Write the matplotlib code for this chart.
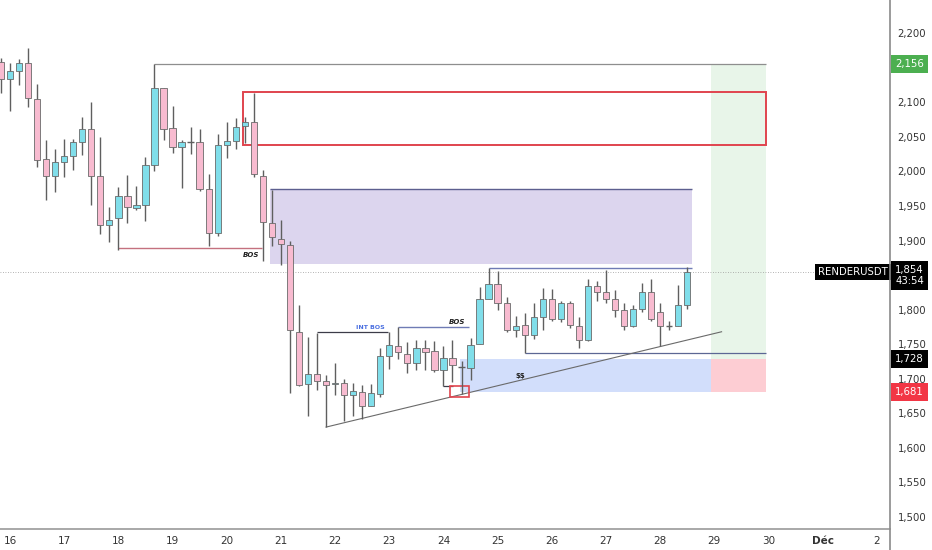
import matplotlib
matplotlib.use('Agg')
import matplotlib.pyplot as plt
import matplotlib.transforms as mtransforms
from matplotlib.patches import Rectangle

# 4h candles, index 0 = 16 Nov 00:00
opens = [2158, 2134, 2146, 2157, 2105, 2018, 1993, 2013, 2022, 2042, 2062, 1993, 1923, 1932, 1964,
         1947, 1951, 2010, 2121, 2063, 2035, 2043, 2042, 1975, 1911, 2039, 2044, 2066, 2071, 1994,
         1925, 1902, 1894, 1768, 1692, 1707, 1697, 1692, 1694, 1677, 1681, 1660, 1678, 1733, 1748,
         1736, 1723, 1744, 1740, 1713, 1730, 1717, 1716, 1750, 1816, 1837, 1810, 1771, 1778, 1763,
         1790, 1816, 1787, 1810, 1776, 1756, 1834, 1826, 1816, 1799, 1776, 1801, 1826, 1796, 1777,
         1776, 1807]
highs = [2164, 2157, 2163, 2179, 2127, 2045, 2032, 2047, 2047, 2079, 2100, 2050, 1949, 1978, 1995,
         1979, 2021, 2156, 2121, 2095, 2046, 2064, 2062, 1997, 2054, 2071, 2078, 2079, 2114, 2002,
         1973, 1930, 1899, 1807, 1761, 1766, 1705, 1723, 1699, 1694, 1691, 1692, 1745, 1767, 1775,
         1753, 1756, 1756, 1754, 1748, 1756, 1725, 1759, 1833, 1861, 1856, 1818, 1791, 1795, 1810,
         1832, 1830, 1813, 1813, 1789, 1844, 1842, 1857, 1829, 1810, 1807, 1838, 1844, 1810, 1784,
         1836, 1862]
lows = [2114, 2087, 2125, 2093, 2007, 1959, 1971, 1992, 2002, 2024, 1952, 1909, 1898, 1887, 1925,
        1944, 1928, 2001, 2046, 2027, 1976, 2026, 1972, 1892, 1906, 2019, 2033, 2041, 1992, 1871,
        1892, 1865, 1679, 1689, 1646, 1684, 1630, 1677, 1639, 1646, 1642, 1660, 1674, 1714, 1728,
        1708, 1712, 1712, 1710, 1690, 1695, 1678, 1698, 1750, 1815, 1799, 1768, 1761, 1737, 1757,
        1770, 1784, 1782, 1773, 1745, 1755, 1812, 1809, 1790, 1770, 1775, 1797, 1784, 1747, 1770,
        1776, 1801]
closes = [2134, 2145, 2157, 2106, 2017, 1993, 2013, 2022, 2042, 2061, 1993, 1923, 1930, 1964, 1948,
          1951, 2010, 2121, 2062, 2036, 2042, 2043, 1975, 1911, 2039, 2044, 2064, 2071, 1996, 1927,
          1905, 1895, 1771, 1691, 1707, 1697, 1691, 1694, 1677, 1682, 1661, 1679, 1733, 1749, 1738,
          1723, 1745, 1739, 1713, 1730, 1720, 1717, 1749, 1816, 1837, 1810, 1771, 1777, 1763, 1790,
          1816, 1787, 1810, 1778, 1756, 1834, 1826, 1816, 1799, 1776, 1801, 1826, 1787, 1777, 1777,
          1807, 1854]
first_bar = -1

day_labels = ['16', '17', '18', '19', '20', '21', '22', '23', '24', '25', '26', '27', '28', '29', '30', 'Déc', '2']
price_ticks = [1500, 1550, 1600, 1650, 1700, 1750, 1800, 1900, 1950, 2000, 2050, 2100, 2200]

last_price = 1854
target = 2156
entry = 1728
stop = 1681
supply_top, supply_bot = 2115, 2039
fvg_top, fvg_bot = 1974, 1866
bos_hi = 1889
int_bos = 1767
bos_lo = 1775
range_hi = 1861
range_lo = 1737
sweep_lvl = 1690
sweep_box = (1673, 1690)
trend_start = (35, 1630)
trend_end = (78.8, 1768)

fig = plt.figure(figsize=(9.32, 5.5), dpi=100)
ax = fig.add_axes([0, 21 / 550, 890 / 932, 529 / 550])
ax.set_xlim(-1.107, 97.45)
ax.set_ylim(1482.5, 2248.2)
x_right = 83.7

# zones
ax.add_patch(Rectangle((77.6, entry), x_right - 77.6, target - entry, facecolor='#e8f5e9', edgecolor='none', zorder=0))
ax.add_patch(Rectangle((77.6, stop), x_right - 77.6, entry - stop, facecolor='#fdcdd3', edgecolor='none', zorder=0))
ax.add_patch(Rectangle((49.8, stop), 77.6 - 49.8, entry - stop, facecolor='#d2defb', edgecolor='none', zorder=0))
ax.add_patch(Rectangle((28.8, fvg_bot), 75.5 - 28.8, fvg_top - fvg_bot, facecolor='#dcd5ee', edgecolor='none', zorder=0))
ax.hlines(fvg_top, 28.8, 75.5, color='#5c5f8f', lw=1.0, zorder=1)
ax.add_patch(Rectangle((25.8, supply_bot), x_right - 25.8, supply_top - supply_bot, facecolor='none',
                       edgecolor='#e0444e', lw=1.4, zorder=3))
ax.add_patch(Rectangle((48.7, sweep_box[0]), 2.1, sweep_box[1] - sweep_box[0], facecolor='none',
                       edgecolor='#e0444e', lw=1.2, zorder=3))

# levels
ax.hlines(target, 16, x_right, color='#8e8e8e', lw=0.9, zorder=1)
ax.hlines(bos_hi, 12, 27.9, color='#c4717f', lw=1.0, zorder=1)
ax.hlines(int_bos, 34, 41.9, color='#3c3c48', lw=0.9, zorder=1)
ax.hlines(bos_lo, 43, 50.8, color='#6f7bb5', lw=1.0, zorder=1)
ax.hlines(range_hi, 53, 75.5, color='#6f7bb5', lw=1.0, zorder=1)
ax.hlines(range_lo, 57, x_right, color='#5c6794', lw=0.9, zorder=1)
ax.hlines(sweep_lvl, 48, 49.1, color='#3c3c48', lw=0.9, zorder=1)
ax.plot([trend_start[0], trend_end[0]], [trend_start[1], trend_end[1]], color='#6a6a6a', lw=0.8, zorder=1)
ax.axhline(last_price, color='#9a9a9a', lw=0.6, ls=(0, (1, 2)), zorder=1)

# candles
for i in range(len(opens)):
    x = first_bar + i
    o, h, l, c = opens[i], highs[i], lows[i], closes[i]
    ax.vlines(x, l, h, color='#5f5f5f', lw=1.0, zorder=4)
    if c == o:
        ax.hlines(o, x - 0.35, x + 0.35, color='#5f5f5f', lw=1.0, zorder=5)
        continue
    col = '#80deea' if c > o else '#f8bbd0'
    ax.add_patch(Rectangle((x - 0.35, min(o, c)), 0.7, abs(c - o), facecolor=col,
                           edgecolor='#6a6a6a', lw=0.6, zorder=5))

# labels on chart
ax.text(27.6, 1879, 'BOS', fontsize=5, fontweight='bold', style='italic', ha='right', va='center', color='#222222', zorder=6)
ax.text(39.9, 1774, 'INT BOS', fontsize=4.5, fontweight='bold', ha='center', va='center', color='#4a6fe0', zorder=6)
ax.text(49.5, 1782, 'BOS', fontsize=5, fontweight='bold', style='italic', ha='center', va='center', color='#222222', zorder=6)
ax.text(56.5, 1704, r'\$\$', fontsize=5, fontweight='bold', ha='center', va='center', color='#222222', zorder=6)

# axes styling
for s in ['top', 'left', 'right']:
    ax.spines[s].set_visible(False)
ax.spines['bottom'].set_color('#9a9a9a')
ax.spines['bottom'].set_linewidth(1.2)
fig.add_artist(plt.Line2D([890 / 932, 890 / 932], [0, 1], color='#8a8a8a', lw=1.2))

narrow = ['Liberation Sans Narrow', 'DejaVu Sans']
ax.set_xticks([6 * d for d in range(len(day_labels))])
ax.set_xticklabels(day_labels, fontsize=7.5, color='#333333', family=narrow)
for lab in ax.get_xticklabels():
    if lab.get_text() == 'Déc':
        lab.set_fontweight('bold')
ax.tick_params(axis='x', length=0, pad=5)

ax.yaxis.tick_right()
ax.set_yticks(price_ticks)
ax.set_yticklabels([f'{p:,}' for p in price_ticks], fontsize=7.3, color='#333333')
ax.tick_params(axis='y', length=0, pad=5.5)

tr = mtransforms.blended_transform_factory(ax.transAxes, ax.transData)
def price_tag(val, bg, txt):
    ax.text(1.0058, val, txt, transform=tr, fontsize=7.3, color='white', ha='left', va='center',
            bbox=dict(boxstyle='square,pad=0.4', facecolor=bg, edgecolor='none'), clip_on=False, zorder=7)

price_tag(target, '#4caf50', f'{target:,}')
price_tag(entry, '#000000', f'{entry:,}')
price_tag(stop, '#f23645', f'{stop:,}')
ax.text(1.0058, last_price - 4, f'{last_price:,}\n43:54', transform=tr, fontsize=7.3, color='white', ha='left',
        va='center', linespacing=1.1, bbox=dict(boxstyle='square,pad=0.4', facecolor='#000000', edgecolor='none'),
        clip_on=False, zorder=7)
ax.text(0.9975, last_price, 'RENDERUSDT', transform=tr, fontsize=7.3, color='white', ha='right', va='center',
        bbox=dict(boxstyle='square,pad=0.3', facecolor='#000000', edgecolor='none'), clip_on=False, zorder=7)

fig.savefig('out.png', dpi=100)
